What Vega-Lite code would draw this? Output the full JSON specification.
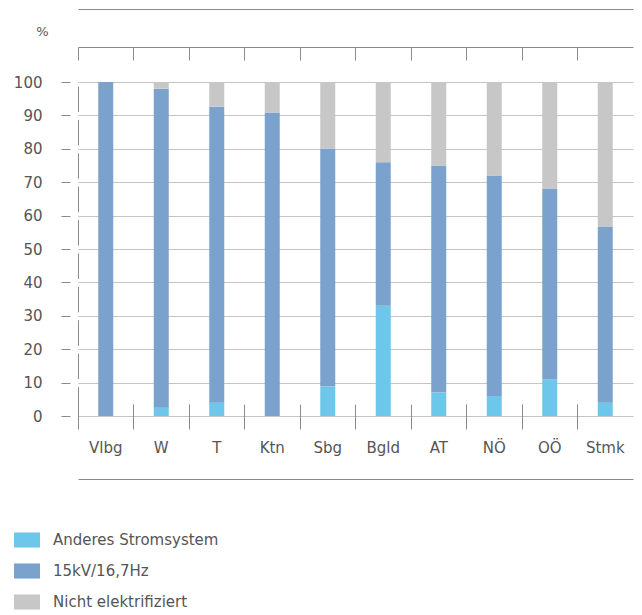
{
  "$schema": "https://vega.github.io/schema/vega-lite/v6.json",
  "width": 555,
  "height": 334,
  "autosize": {"type": "none"},
  "padding": {"left": 78, "top": 82, "right": 9, "bottom": 199},
  "background": "white",
  "config": {
    "font": "DejaVu Sans",
    "view": {"stroke": null}
  },
  "data": {"values": [
    {"region": "Vlbg", "system": "Anderes Stromsystem", "value": 0},
    {"region": "Vlbg", "system": "15kV/16,7Hz", "value": 100},
    {"region": "Vlbg", "system": "Nicht elektrifiziert", "value": 0},
    {"region": "W", "system": "Anderes Stromsystem", "value": 2.5},
    {"region": "W", "system": "15kV/16,7Hz", "value": 95.5},
    {"region": "W", "system": "Nicht elektrifiziert", "value": 2},
    {"region": "T", "system": "Anderes Stromsystem", "value": 4},
    {"region": "T", "system": "15kV/16,7Hz", "value": 88.6},
    {"region": "T", "system": "Nicht elektrifiziert", "value": 7.4},
    {"region": "Ktn", "system": "Anderes Stromsystem", "value": 0},
    {"region": "Ktn", "system": "15kV/16,7Hz", "value": 90.9},
    {"region": "Ktn", "system": "Nicht elektrifiziert", "value": 9.1},
    {"region": "Sbg", "system": "Anderes Stromsystem", "value": 8.8},
    {"region": "Sbg", "system": "15kV/16,7Hz", "value": 71.3},
    {"region": "Sbg", "system": "Nicht elektrifiziert", "value": 19.9},
    {"region": "Bgld", "system": "Anderes Stromsystem", "value": 33},
    {"region": "Bgld", "system": "15kV/16,7Hz", "value": 43},
    {"region": "Bgld", "system": "Nicht elektrifiziert", "value": 24},
    {"region": "AT", "system": "Anderes Stromsystem", "value": 7},
    {"region": "AT", "system": "15kV/16,7Hz", "value": 68},
    {"region": "AT", "system": "Nicht elektrifiziert", "value": 25},
    {"region": "NÖ", "system": "Anderes Stromsystem", "value": 6},
    {"region": "NÖ", "system": "15kV/16,7Hz", "value": 66},
    {"region": "NÖ", "system": "Nicht elektrifiziert", "value": 28},
    {"region": "OÖ", "system": "Anderes Stromsystem", "value": 11},
    {"region": "OÖ", "system": "15kV/16,7Hz", "value": 57},
    {"region": "OÖ", "system": "Nicht elektrifiziert", "value": 32},
    {"region": "Stmk", "system": "Anderes Stromsystem", "value": 4},
    {"region": "Stmk", "system": "15kV/16,7Hz", "value": 52.6},
    {"region": "Stmk", "system": "Nicht elektrifiziert", "value": 43.4}
  ]},
  "transform": [
    {"calculate": "indexof(['Anderes Stromsystem', '15kV/16,7Hz', 'Nicht elektrifiziert'], datum.system)", "as": "stackOrder"}
  ],
  "resolve": {"axis": {"x": "independent", "y": "independent"}},
  "layer": [
    {
      "mark": {"type": "bar", "size": 15},
      "encoding": {
        "x": {
          "field": "region", "type": "nominal", "sort": null,
          "scale": {"paddingInner": 0, "paddingOuter": 0},
          "axis": {
            "orient": "bottom", "title": null, "domain": false, "grid": false,
            "bandPosition": 0, "offset": -12, "tickSize": 25, "tickColor": "#8a8a8a", "tickWidth": 1,
            "labelPadding": 11, "labelFontSize": 15, "labelColor": "#555555", "labelAngle": 0,
            "labelFont": "DejaVu Sans"
          }
        },
        "y": {
          "field": "value", "type": "quantitative", "stack": "zero",
          "scale": {"domain": [0, 100], "nice": false},
          "axis": {
            "orient": "left", "title": "%", "titleAngle": 0, "titleX": -36, "titleY": -51,
            "titleAlign": "center", "titleBaseline": "middle", "titleFontSize": 13, "titleFontWeight": "normal", "titleColor": "#555555",
            "titleFont": "DejaVu Sans",
            "values": [0,10,20,30,40,50,60,70,80,90,100],
            "offset": 0, "ticks": false,
            "domain": true, "domainColor": "#8a8a8a", "domainWidth": 1, "domainOpacity": 1, "domainDash": [25.4, 8], "domainDashOffset": -4,
            "labelPadding": 36, "labelFontSize": 15, "labelColor": "#555555", "labelFont": "DejaVu Sans",
            "grid": true, "gridColor": "#c4c4c4", "gridWidth": 1
          }
        },
        "order": {"field": "stackOrder", "type": "quantitative", "sort": "ascending"},
        "color": {
          "field": "system", "type": "nominal",
          "sort": ["Anderes Stromsystem", "15kV/16,7Hz", "Nicht elektrifiziert"],
          "scale": {
            "domain": ["Anderes Stromsystem", "15kV/16,7Hz", "Nicht elektrifiziert"],
            "range": ["#6cc7ea", "#7aa2cc", "#c7c7c7"]
          },
          "legend": {
            "title": null, "orient": "none", "legendX": -64, "legendY": 445, "direction": "vertical",
            "symbolType": "M-1,-0.58H1V0.58H-1Z", "symbolSize": 676, "symbolStrokeWidth": 0,
            "symbolOpacity": 1, "rowPadding": 10, "labelOffset": 13, "labelLimit": 400,
            "labelFontSize": 15, "labelColor": "#555555", "labelFont": "DejaVu Sans"
          }
        }
      }
    },
    {
      "mark": {"type": "point", "opacity": 0},
      "encoding": {
        "x": {
          "field": "region", "type": "nominal", "sort": null,
          "axis": {
            "orient": "top", "title": null, "labels": false, "grid": false,
            "bandPosition": 0, "offset": 35, "tickSize": -13, "tickColor": "#8a8a8a",
            "domain": true, "domainColor": "#8a8a8a"
          }
        },
        "y": {
          "field": "value", "type": "quantitative",
          "axis": {
            "orient": "left", "title": null, "labels": false, "grid": false,
            "values": [0,10,20,30,40,50,60,70,80,90,100],
            "offset": 8, "domain": false, "ticks": true, "tickSize": 9, "tickColor": "#8a8a8a"
          }
        }
      }
    },
    {
      "mark": {"type": "point", "opacity": 0},
      "encoding": {
        "x": {
          "field": "region", "type": "nominal", "sort": null,
          "axis": {
            "orient": "top", "title": null, "labels": false, "ticks": false, "grid": false,
            "offset": 73, "domain": true, "domainColor": "#8a8a8a"
          }
        }
      }
    },
    {
      "mark": {"type": "point", "opacity": 0},
      "encoding": {
        "x": {
          "field": "region", "type": "nominal", "sort": null,
          "axis": {
            "orient": "bottom", "title": null, "labels": false, "ticks": false, "grid": false,
            "offset": 63, "domain": true, "domainColor": "#8a8a8a"
          }
        }
      }
    }
  ]
}
